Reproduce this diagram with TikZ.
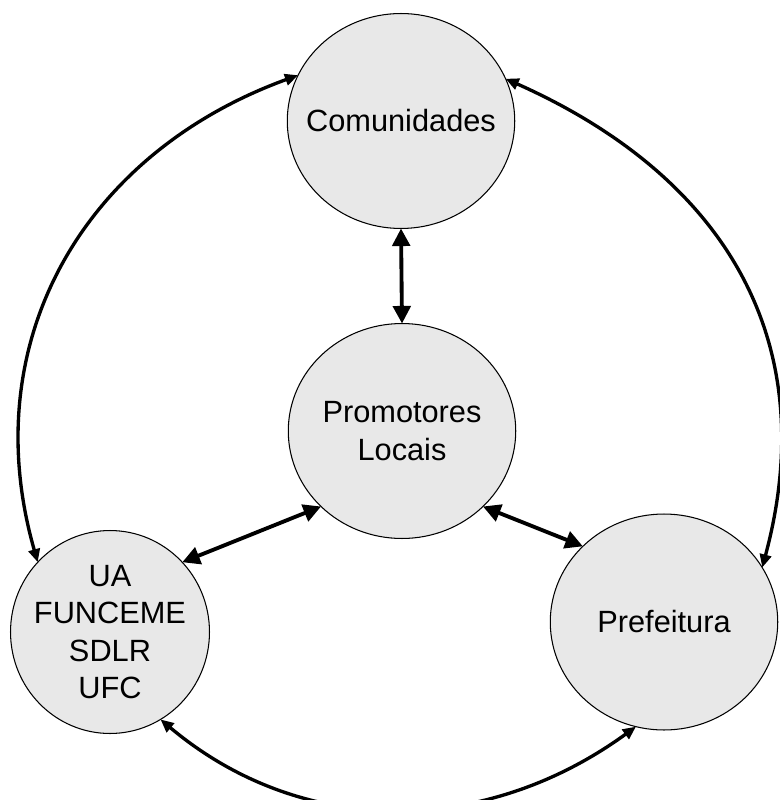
\documentclass[tikz,border=0pt]{standalone}
\usepackage{fontspec}
\setsansfont{Liberation Sans}
\usetikzlibrary{arrows.meta,shapes.geometric}
\begin{document}
\begin{tikzpicture}[x=0.02cm,y=0.02cm,inner sep=0pt,outer sep=0pt,
actor/.style={draw,ellipse,fill=gray!18,line width=0.6pt,minimum width=4.55cm,minimum height=4.3cm},
caption/.style={align=center,font=\sffamily\fontsize{17.5}{21.2}\selectfont},
spoke/.style={{Triangle[length=10pt,width=10pt]}-{Triangle[length=10pt,width=10pt]},line width=2.2pt},
ring/.style={{Triangle[length=7.5pt,width=6.5pt]}-{Triangle[length=7.5pt,width=6.5pt]},line width=1.9pt}]
\useasboundingbox (0,0) rectangle (779,-800);
\draw (401,-121) node[actor] (Com) {} node[caption] {Comunidades};
\draw (402,-431) node[actor] (Prom) {} node[caption] {Promotores\\Locais};
\draw (110,-632) node[actor,minimum width=3.98cm,minimum height=4.06cm] (Ua) {} node[caption] {UA\\FUNCEME\\SDLR\\UFC};
\draw (664,-622) node[actor,minimum height=4.32cm] (Pref) {} node[caption] {Prefeitura};
\draw[spoke] (Com.south) -- (Prom.north);
\draw[spoke] (Prom.223) -- (Ua.44);
\draw[spoke] (Prom.-43) -- (Pref.137);
\draw[ring] (Ua.136) to[out=106,in=200,looseness=1.06] (Com.156);
\draw[ring] (Com.22) to[out=-24,in=75,looseness=1.1] (Pref.29);
\draw[ring] (Ua.-60) to[out=-40,in=216] (Pref.-105);
\end{tikzpicture}
\end{document}
